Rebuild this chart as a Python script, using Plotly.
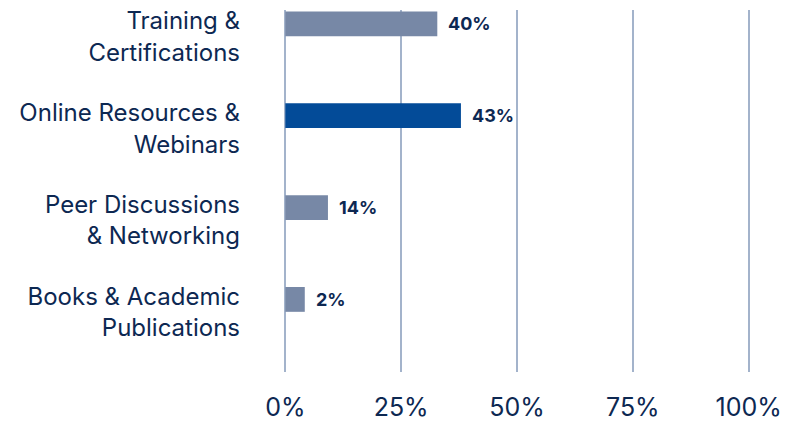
import plotly.graph_objects as go

categories = ["Training &<br>Certifications", "Online Resources &<br>Webinars",
              "Peer Discussions<br>& Networking", "Books & Academic<br>Publications"]
bar_values = [32.8, 37.9, 9.2, 4.2]
value_labels = ["40%", "43%", "14%", "2%"]
bar_colors = ["#7788a6", "#034b98", "#7788a6", "#7788a6"]
x_ticks = [0, 25, 50, 75, 100]
x_tick_labels = ["0%", "25%", "50%", "75%", "100%"]

navy = "#0d2852"
font_family = "Inter, Roboto, sans-serif"
idx = list(range(len(categories)))

fig = go.Figure()
fig.add_trace(go.Bar(
    x=bar_values, y=idx, orientation="h", width=0.27,
    marker=dict(color=bar_colors, line=dict(width=0)),
    hoverinfo="skip",
))
for i, (v, t) in enumerate(zip(bar_values, value_labels)):
    fig.add_annotation(x=v, y=i, text=f"<b>{t}</b>", showarrow=False,
                       xanchor="left", xshift=9, yshift=0,
                       font=dict(family=font_family, size=18, color=navy))

fig.update_layout(
    width=787, height=423,
    margin=dict(l=283, r=36, t=10, b=51, autoexpand=False),
    paper_bgcolor="white", plot_bgcolor="white",
    showlegend=False,
    font=dict(family=font_family, color=navy),
    xaxis=dict(range=[-0.5, 100.5], tickvals=x_ticks, ticktext=x_tick_labels,
               showgrid=True, gridcolor="#a3b3cb", gridwidth=2,
               zeroline=False, showline=False, ticks="", automargin=False,
               ticklabelstandoff=18,
               tickfont=dict(family=font_family, size=25, color=navy)),
    yaxis=dict(range=[3.79, -0.15], tickvals=[i + 0.14 for i in idx], ticktext=categories,
               showgrid=False, zeroline=False, showline=False, ticks="", automargin=False,
               ticklabelstandoff=42,
               tickfont=dict(family=font_family, size=24, color=navy)),
)
fig.write_html("out.html")
